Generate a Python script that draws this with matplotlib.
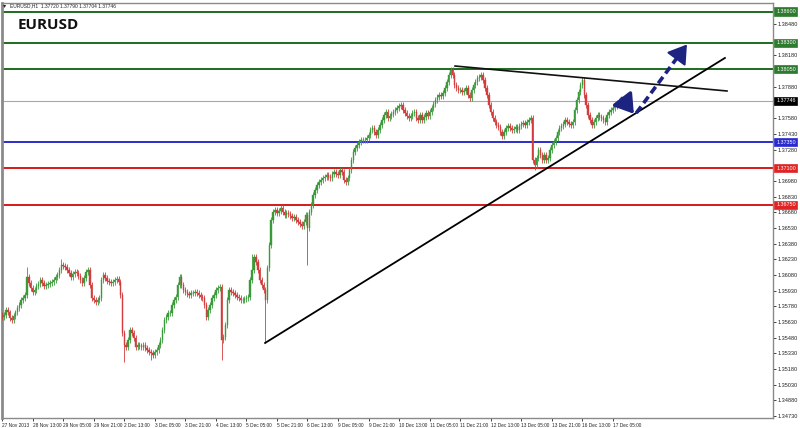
import matplotlib
matplotlib.use('Agg')
import matplotlib.pyplot as plt
import matplotlib.transforms as mtransforms
from matplotlib.patches import FancyArrowPatch

# ---------------- data ----------------
closes = [
    1.35677, 1.35696, 1.35744, 1.35724, 1.35668, 1.35649, 1.35687, 1.35724, 1.35763, 1.35792,
    1.35840, 1.35859, 1.35888, 1.36060, 1.36003, 1.35955, 1.35917, 1.35936, 1.35974, 1.35993,
    1.36031, 1.36003, 1.35974, 1.35984, 1.35993, 1.36003, 1.36012, 1.36031, 1.36060, 1.36079,
    1.36127, 1.36175, 1.36165, 1.36156, 1.36127, 1.36098, 1.36060, 1.36089, 1.36108, 1.36098,
    1.36070, 1.36031, 1.36003, 1.36051, 1.36108, 1.36127, 1.35984, 1.35859, 1.35840, 1.35821,
    1.35840, 1.35859, 1.36031, 1.36079, 1.36051, 1.36022, 1.36012, 1.36003, 1.36012, 1.36031,
    1.36041, 1.36012, 1.35888, 1.35524, 1.35409, 1.35390, 1.35457, 1.35553, 1.35524, 1.35476,
    1.35390, 1.35409, 1.35400, 1.35390, 1.35409, 1.35381, 1.35362, 1.35342, 1.35333, 1.35314,
    1.35342, 1.35362, 1.35409, 1.35457, 1.35553, 1.35649, 1.35677, 1.35715, 1.35715, 1.35792,
    1.35840, 1.35869, 1.35984, 1.36060, 1.35984, 1.35936, 1.35917, 1.35897, 1.35888, 1.35907,
    1.35907, 1.35917, 1.35907, 1.35888, 1.35869, 1.35859, 1.35792, 1.35677, 1.35744, 1.35792,
    1.35859, 1.35888, 1.35936, 1.35955, 1.35964, 1.35457, 1.35486, 1.35601, 1.35840, 1.35936,
    1.35917, 1.35907, 1.35888, 1.35869, 1.35859, 1.35840, 1.35840, 1.35850, 1.35859, 1.35869,
    1.36031, 1.36127, 1.36251, 1.36204, 1.36127, 1.36031, 1.35984, 1.35936, 1.35840, 1.36146,
    1.36366, 1.36606, 1.36682, 1.36701, 1.36673, 1.36692, 1.36720, 1.36682, 1.36653, 1.36673,
    1.36663, 1.36644, 1.36625, 1.36634, 1.36606, 1.36586, 1.36567, 1.36548, 1.36586, 1.36653,
    1.36529, 1.36682, 1.36749, 1.36845, 1.36893, 1.36941, 1.36969, 1.36988, 1.37008, 1.37017,
    1.37036, 1.37017, 1.37008, 1.37046, 1.37065, 1.37046, 1.37036, 1.37084, 1.37065, 1.36988,
    1.36969, 1.37008, 1.37084, 1.37180, 1.37256, 1.37295, 1.37323, 1.37352, 1.37371, 1.37371,
    1.37371, 1.37390, 1.37419, 1.37467, 1.37486, 1.37448, 1.37419, 1.37467, 1.37515, 1.37563,
    1.37610, 1.37639, 1.37582, 1.37601, 1.37620, 1.37639, 1.37658, 1.37677, 1.37697, 1.37706,
    1.37658, 1.37630, 1.37601, 1.37582, 1.37601, 1.37630, 1.37639, 1.37582, 1.37563, 1.37610,
    1.37563, 1.37591, 1.37630, 1.37601, 1.37639, 1.37677, 1.37716, 1.37754, 1.37783, 1.37802,
    1.37792, 1.37821, 1.37869, 1.37926, 1.37993, 1.38041, 1.37993, 1.37898, 1.37869, 1.37850,
    1.37850, 1.37831, 1.37840, 1.37869, 1.37802, 1.37773, 1.37850, 1.37898, 1.37926, 1.37965,
    1.37974, 1.37993, 1.37945, 1.37869, 1.37802, 1.37706, 1.37639, 1.37582, 1.37543, 1.37515,
    1.37496, 1.37448, 1.37409, 1.37448, 1.37486, 1.37505, 1.37486, 1.37467, 1.37476, 1.37496,
    1.37467, 1.37505, 1.37524, 1.37534, 1.37515, 1.37543, 1.37563, 1.37582, 1.37180, 1.37132,
    1.37199, 1.37275, 1.37228, 1.37180, 1.37228, 1.37180, 1.37199, 1.37275, 1.37323, 1.37352,
    1.37390, 1.37448, 1.37486, 1.37505, 1.37524, 1.37563, 1.37543, 1.37524, 1.37515, 1.37543,
    1.37658, 1.37754, 1.37831, 1.37898, 1.37945, 1.37802, 1.37706, 1.37610, 1.37563, 1.37515,
    1.37543, 1.37582, 1.37610, 1.37591, 1.37582, 1.37563, 1.37543, 1.37610, 1.37639, 1.37658,
    1.37677, 1.37697, 1.37725, 1.37744, 1.37746,
]
first_open = 1.35700
spike_highs = {13: 1.36156, 31: 1.36230, 131: 1.36280, 235: 1.38070, 251: 1.38022, 304: 1.37974}
spike_lows = {64: 1.35247, 78: 1.35266, 115: 1.35266, 138: 1.35429, 160: 1.36175, 279: 1.37084}

time_labels = ["27 Nov 2013", "28 Nov 13:00", "29 Nov 05:00", "29 Nov 21:00", "2 Dec 13:00",
               "3 Dec 05:00", "3 Dec 21:00", "4 Dec 13:00", "5 Dec 05:00", "5 Dec 21:00",
               "6 Dec 13:00", "9 Dec 05:00", "9 Dec 21:00", "10 Dec 13:00", "11 Dec 05:00",
               "11 Dec 21:00", "12 Dec 13:00", "13 Dec 05:00", "13 Dec 21:00", "16 Dec 13:00",
               "17 Dec 05:00"]
bars_per_label = 16

level_values = [1.38600, 1.38300, 1.38050, 1.37746, 1.37350, 1.37100, 1.36750]
level_texts = ["1.38600", "1.38300", "1.38050", "1.37746", "1.37350", "1.37100", "1.36750"]
level_line_colors = ['#1f6b1f', '#1f6b1f', '#1f6b1f', '#a8a8a8', '#1b1bc8', '#d81818', '#d81818']
level_box_colors = ['#2e7a2e', '#2e7a2e', '#2e7a2e', '#000000', '#2a2ad0', '#e02424', '#e02424']
level_widths = [1.4, 1.4, 1.4, 0.8, 1.3, 1.4, 1.4]

# visible price-scale labels (those under the level boxes are hidden in the original)
ytick_values = [1.34730, 1.34880, 1.35030, 1.35180, 1.35330, 1.35480, 1.35630, 1.35780, 1.35930,
                1.36080, 1.36230, 1.36380, 1.36530, 1.36680, 1.36830, 1.36980, 1.37280,
                1.37430, 1.37580, 1.37880, 1.38180, 1.38480]

# trend lines (bar index, price)
support_line = [(137.8, 1.35429), (378.7, 1.38156)]
resistance_line = [(237.3, 1.38079), (379.8, 1.37840)]
solid_arrow = [(324.8, 1.37770), (331.0, 1.37622)]
dashed_arrow = [(332.3, 1.37630), (358.8, 1.38285)]

# ---------------- figure ----------------
fig = plt.figure(figsize=(8.0, 4.28), dpi=100)
W, H = 800.0, 428.0
ax = fig.add_axes([1.5 / W, 1 - 418 / H, (773 - 1.5) / W, (418 - 3) / H])
ax.set_xlim(-0.3, 403.9)
ax.set_ylim(1.34711, 1.38682)

up_c = '#3a9a3a'
dn_c = '#d23c3c'
opens = [first_open] + closes[:-1]
for i, (o, c) in enumerate(zip(opens, closes)):
    col = up_c if c >= o else dn_c
    hi = spike_highs.get(i, max(o, c) + 0.00025)
    lo = spike_lows.get(i, min(o, c) - 0.00025)
    ax.vlines(i, lo, hi, color=col, lw=0.6, zorder=3)
    body = abs(c - o)
    if body < 0.00004:
        body = 0.00004
    ax.bar(i, body, bottom=min(o, c), width=0.75, color=col, edgecolor=col, lw=0.3, zorder=4)

# horizontal levels
trans = mtransforms.blended_transform_factory(ax.transAxes, ax.transData)
for v, t, lc, bc, lw in zip(level_values, level_texts, level_line_colors, level_box_colors, level_widths):
    ax.axhline(v, color=lc, lw=lw, zorder=2)
    ax.text(1.004, v, t, transform=trans, fontsize=3.9, family='Liberation Sans', color='white',
            va='center', ha='left', zorder=20, clip_on=False,
            bbox=dict(boxstyle='square,pad=0.3', fc=bc, ec=bc, lw=0.5))

# trend lines
ax.plot([p[0] for p in support_line], [p[1] for p in support_line], color='black', lw=1.3, zorder=6)
ax.plot([p[0] for p in resistance_line], [p[1] for p in resistance_line], color='#111111', lw=1.2, zorder=6)

navy = '#1c2380'
ax.add_patch(FancyArrowPatch(solid_arrow[0], solid_arrow[1],
                             arrowstyle='-|>,head_length=0.7,head_width=0.45', mutation_scale=16,
                             color=navy, lw=2.4, shrinkA=0, shrinkB=0, zorder=8))
ax.plot([dashed_arrow[0][0], dashed_arrow[1][0]], [dashed_arrow[0][1], dashed_arrow[1][1]],
        color=navy, lw=2.6, ls=(0, (2.2, 1.2)), zorder=8)
ax.add_patch(FancyArrowPatch((dashed_arrow[1][0] - 2.5, dashed_arrow[1][1] - 0.00062), dashed_arrow[1],
                             arrowstyle='-|>,head_length=0.7,head_width=0.45', mutation_scale=16,
                             color=navy, lw=1.5, shrinkA=0, shrinkB=0, zorder=9))

# axes styling
ax.yaxis.tick_right()
ax.set_yticks(ytick_values)
ax.set_yticklabels([f"{v:.5f}" for v in ytick_values], family='Liberation Sans')
ax.tick_params(axis='y', labelsize=4.0, length=2, width=0.6, pad=1.5, colors='#222222')
ax.set_xticks([k * bars_per_label for k in range(len(time_labels))])
ax.set_xticklabels(time_labels, ha='left', family='Liberation Sans')
ax.tick_params(axis='x', labelsize=3.4, length=2, width=0.6, pad=1.5, colors='#222222')
for s in ax.spines.values():
    s.set_color('#8a8a8a')
    s.set_linewidth(1.0)
ax.spines['left'].set_linewidth(2.0)

# headers
fig.text(3 / W, 1 - 5.5 / H, '\u25BE', fontsize=4.5, va='center', ha='left', color='#222222')
fig.text(10 / W, 1 - 5.5 / H, 'EURUSD,H1  1.37720 1.37790 1.37704 1.37746', fontsize=3.5,
         family='Liberation Sans', va='center', ha='left', color='#222222')
fig.text(18 / W, 1 - 29 / H, 'EURUSD', fontsize=11, fontweight='bold', family='Open Sans',
         va='baseline', ha='left', color='#111111')

fig.savefig('out.png', dpi=100)
